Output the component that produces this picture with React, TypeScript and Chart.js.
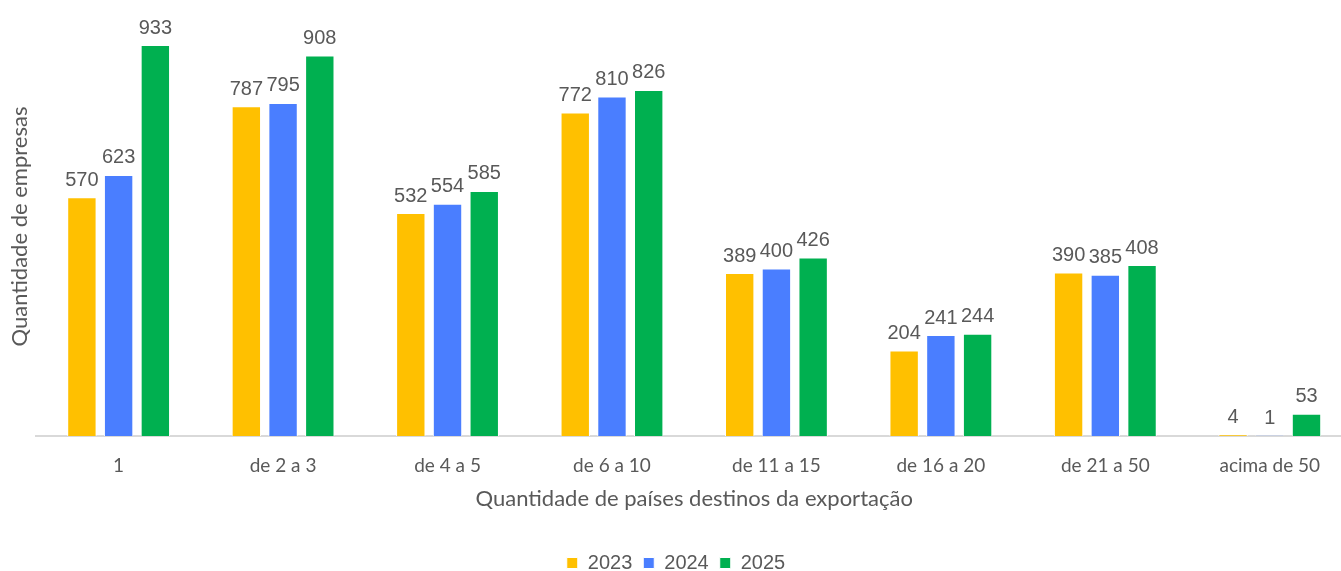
import React, { useEffect, useRef } from "react";
import { Chart, registerables } from "chart.js";

Chart.register(...registerables);

const categories = ["1", "de 2 a 3", "de 4 a 5", "de 6 a 10", "de 11 a 15", "de 16 a 20", "de 21 a 50", "acima de 50"];
const values2023 = [570, 787, 532, 772, 389, 204, 390, 4];
const values2024 = [623, 795, 554, 810, 400, 241, 385, 1];
const values2025 = [933, 908, 585, 826, 426, 244, 408, 53];
const seriesNames = ["2023", "2024", "2025"];

const valueLabels = {
  id: "valueLabels",
  afterDatasetsDraw(chart: any) {
    const ctx = chart.ctx;
    ctx.save();
    ctx.font = '20px "Liberation Sans", Arial, sans-serif';
    ctx.fillStyle = "#595959";
    ctx.textAlign = "center";
    ctx.textBaseline = "bottom";
    chart.data.datasets.forEach((ds: any, i: number) => {
      const meta = chart.getDatasetMeta(i);
      meta.data.forEach((bar: any, j: number) => {
        ctx.fillText(String(ds.data[j]), bar.x, bar.y - 7);
      });
    });
    ctx.restore();
  },
};

export default function App() {
  const ref = useRef<HTMLCanvasElement>(null);
  useEffect(() => {
    document.body.style.margin = "0";
    document.body.style.overflow = "hidden";
    const chart = new Chart(ref.current!, {
      type: "bar",
      data: {
        labels: categories,
        datasets: [
          { label: seriesNames[0], data: values2023, backgroundColor: "#FFC000" },
          { label: seriesNames[1], data: values2024, backgroundColor: "#4A7EFF" },
          { label: seriesNames[2], data: values2025, backgroundColor: "#00B050" },
        ].map((d) => ({ ...d, borderColor: "#ffffff", borderWidth: 1, barPercentage: 0.8, categoryPercentage: 0.67 })),
      },
      options: {
        animation: false,
        responsive: false,
        maintainAspectRatio: false,
        layout: { padding: { top: 17, right: 0, bottom: -12, left: 0 } },
        plugins: {
          tooltip: { enabled: false },
          legend: {
            position: "bottom",
            labels: {
              boxWidth: 11,
              boxHeight: 11,
              padding: 11,
              color: "#595959",
              font: { family: '"Liberation Sans", Arial, sans-serif', size: 20 },
            },
          },
        },
        scales: {
          x: {
            afterFit: (s: any) => {
              s.paddingLeft = 0;
              s.paddingRight = 0;
              s.height = 106;
            },
            grid: { display: false, drawTicks: false },
            border: { display: true, color: "#d9d9d9", width: 2 },
            ticks: { color: "#595959", padding: 18, font: { family: "Lato, sans-serif", size: 19 } },
            title: {
              display: true,
              text: "Quantidade de países destinos da exportação",
              color: "#595959",
              padding: { top: 0, bottom: 30 },
              font: { family: "Lato, sans-serif", size: 22 },
            },
          },
          y: {
            min: 0,
            max: 1000,
            grid: { display: false, drawTicks: false },
            border: { display: false },
            ticks: { display: false },
            title: {
              display: true,
              text: "Quantidade de empresas",
              color: "#595959",
              padding: { top: 7, bottom: 3 },
              font: { family: "Lato, sans-serif", size: 22 },
            },
          },
        },
      },
      plugins: [valueLabels],
    });
    return () => chart.destroy();
  }, []);
  return (
    <div style={{ width: 1341, height: 571, overflow: "hidden" }}>
      <canvas ref={ref} width={1352} height={571} style={{ display: "block" }} />
    </div>
  );
}
